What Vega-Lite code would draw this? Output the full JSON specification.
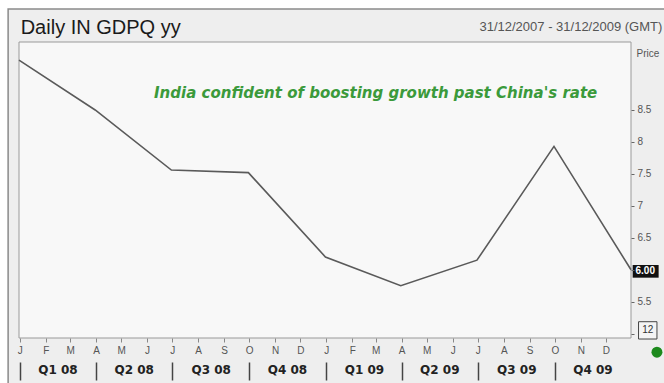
{
  "$schema": "https://vega.github.io/schema/vega-lite/v6.json",
  "width": 612,
  "height": 296,
  "autosize": {"type": "none"},
  "padding": {"left": 19, "top": 42, "right": 33, "bottom": 45},
  "background": "white",
  "config": {"view": {"stroke": null}, "axis": {"grid": false}},
  "data": {"values": [
    {"date": "2007-12-31", "value": 9.28},
    {"date": "2008-03-31", "value": 8.50},
    {"date": "2008-06-30", "value": 7.56},
    {"date": "2008-09-30", "value": 7.52},
    {"date": "2008-12-31", "value": 6.20},
    {"date": "2009-03-31", "value": 5.75},
    {"date": "2009-06-30", "value": 6.15},
    {"date": "2009-09-30", "value": 7.93},
    {"date": "2009-12-31", "value": 6.00}
  ]},
  "resolve": {"axis": {"x": "independent", "y": "independent"}},
  "layer": [
    {
      "data": {"values": [{}]},
      "mark": {"type": "rect", "fill": "#eeeeee", "stroke": "#8a8a8a", "strokeWidth": 1.5, "clip": false},
      "encoding": {
        "x": {"datum": {"year": 2007, "month": 12, "date": 18}, "type": "temporal", "axis": null, "scale": {"domain": [{"year": 2007, "month": 12, "date": 31}, {"year": 2009, "month": 12, "date": 31}]}},
        "x2": {"datum": {"year": 2010, "month": 6, "date": 1}},
        "y": {"datum": 10.08, "type": "quantitative", "axis": null, "scale": {"domain": [4.932, 9.564], "zero": false, "nice": false}},
        "y2": {"datum": 3.5}
      }
    },
    {
      "data": {"values": [{}]},
      "mark": {"type": "rect", "fill": "#f8f8f8", "stroke": "#9a9a9a", "strokeWidth": 1},
      "encoding": {
        "x": {"datum": {"year": 2007, "month": 12, "date": 31}, "type": "temporal", "axis": null},
        "x2": {"datum": {"year": 2009, "month": 12, "date": 31}},
        "y": {"datum": 4.932, "type": "quantitative", "axis": null},
        "y2": {"datum": 9.564}
      }
    },
    {
      "mark": {"type": "line", "color": "#5a5a5a", "strokeWidth": 1.6},
      "encoding": {
        "x": {"field": "date", "type": "temporal",
          "axis": {
            "orient": "bottom", "zindex": 2,
            "values": [
              {"year": 2008, "month": 1, "date": 1}, {"year": 2008, "month": 2, "date": 1}, {"year": 2008, "month": 3, "date": 1},
              {"year": 2008, "month": 4, "date": 1}, {"year": 2008, "month": 5, "date": 1}, {"year": 2008, "month": 6, "date": 1},
              {"year": 2008, "month": 7, "date": 1}, {"year": 2008, "month": 8, "date": 1}, {"year": 2008, "month": 9, "date": 1},
              {"year": 2008, "month": 10, "date": 1}, {"year": 2008, "month": 11, "date": 1}, {"year": 2008, "month": 12, "date": 1},
              {"year": 2009, "month": 1, "date": 1}, {"year": 2009, "month": 2, "date": 1}, {"year": 2009, "month": 3, "date": 1},
              {"year": 2009, "month": 4, "date": 1}, {"year": 2009, "month": 5, "date": 1}, {"year": 2009, "month": 6, "date": 1},
              {"year": 2009, "month": 7, "date": 1}, {"year": 2009, "month": 8, "date": 1}, {"year": 2009, "month": 9, "date": 1},
              {"year": 2009, "month": 10, "date": 1}, {"year": 2009, "month": 11, "date": 1}, {"year": 2009, "month": 12, "date": 1}
            ],
            "labelExpr": "slice(timeFormat(datum.value, '%b'), 0, 1)",
            "tickSize": 4, "tickColor": "#888888", "labelColor": "#555555", "labelFont": "Liberation Sans", "labelFontSize": 10,
            "labelPadding": 3, "domain": false, "title": null, "labelFlush": false, "labelOverlap": false
          }
        },
        "y": {"field": "value", "type": "quantitative",
          "axis": {
            "orient": "right", "zindex": 2, "values": [5, 5.5, 6, 6.5, 7, 7.5, 8, 8.5],
            "labelExpr": "datum.value == 5 || datum.value == 6 ? '' : '' + datum.value",
            "domain": false, "tickSize": 3, "tickColor": "#666666", "labelColor": "#555555", "labelFont": "Liberation Sans", "labelFontSize": 10, "labelPadding": 3,
            "title": "Price", "titleAngle": 0, "titleAlign": "left", "titleBaseline": "alphabetic", "titleX": 5, "titleY": 14,
            "titleFont": "Liberation Sans", "titleFontSize": 10, "titleFontWeight": "normal", "titleColor": "#555555"
          }
        }
      }
    },
    {
      "mark": {"type": "rule", "opacity": 0},
      "encoding": {
        "x": {"field": "date", "type": "temporal",
          "axis": {
            "orient": "bottom", "zindex": 2,
            "values": [
              {"year": 2008, "month": 2, "date": 15}, {"year": 2008, "month": 5, "date": 16}, {"year": 2008, "month": 8, "date": 16}, {"year": 2008, "month": 11, "date": 15},
              {"year": 2009, "month": 2, "date": 15}, {"year": 2009, "month": 5, "date": 16}, {"year": 2009, "month": 8, "date": 16}, {"year": 2009, "month": 11, "date": 15}
            ],
            "labelExpr": "'Q' + quarter(datum.value) + ' ' + timeFormat(datum.value, '%y')",
            "ticks": false, "tickSize": 0, "domain": false, "offset": 26, "labelPadding": 0,
            "labelFont": "DejaVu Sans", "labelFontSize": 12, "labelFontWeight": "bold", "labelColor": "#222222",
            "title": null, "labelFlush": false, "labelOverlap": false
          }
        }
      }
    },
    {
      "mark": {"type": "rule", "opacity": 0},
      "encoding": {
        "x": {"field": "date", "type": "temporal",
          "axis": {
            "orient": "bottom", "zindex": 2,
            "values": [
              {"year": 2008, "month": 1, "date": 1}, {"year": 2008, "month": 4, "date": 1}, {"year": 2008, "month": 7, "date": 1}, {"year": 2008, "month": 10, "date": 1},
              {"year": 2009, "month": 1, "date": 1}, {"year": 2009, "month": 4, "date": 1}, {"year": 2009, "month": 7, "date": 1}, {"year": 2009, "month": 10, "date": 1}
            ],
            "labels": false, "tickSize": 18, "tickWidth": 1.5, "tickColor": "#444444", "domain": false, "offset": 24, "title": null
          }
        }
      }
    },
    {
      "data": {"values": [{"label": "Daily IN GDPQ yy"}]},
      "mark": {"type": "text", "align": "left", "baseline": "alphabetic", "font": "Liberation Sans", "fontSize": 20, "color": "#1a1a1a", "clip": false},
      "encoding": {
        "x": {"datum": {"year": 2008, "month": 1, "date": 2}, "type": "temporal", "axis": null},
        "y": {"datum": 9.689, "type": "quantitative", "axis": null},
        "text": {"field": "label"}
      }
    },
    {
      "data": {"values": [{"label": "India confident of boosting growth past China's rate"}]},
      "mark": {"type": "text", "align": "center", "baseline": "alphabetic", "font": "DejaVu Sans", "fontSize": 15, "fontWeight": "bold", "fontStyle": "italic", "color": "#3b9a3b"},
      "encoding": {
        "x": {"datum": {"year": 2009, "month": 3, "date": 1}, "type": "temporal", "axis": null},
        "y": {"datum": 8.683, "type": "quantitative", "axis": null},
        "text": {"field": "label"}
      }
    },
    {
      "data": {"values": [{"label": "31/12/2007 - 31/12/2009 (GMT)"}]},
      "mark": {"type": "text", "align": "left", "baseline": "alphabetic", "font": "Liberation Sans", "fontSize": 13, "color": "#555555", "clip": false},
      "encoding": {
        "x": {"datum": {"year": 2009, "month": 7, "date": 3}, "type": "temporal", "axis": null},
        "y": {"datum": 9.736, "type": "quantitative", "axis": null},
        "text": {"field": "label"}
      }
    },
    {
      "data": {"values": [{}]},
      "mark": {"type": "rect", "fill": "#111111", "clip": false},
      "encoding": {
        "x": {"datum": {"year": 2010, "month": 1, "date": 2}, "type": "temporal", "axis": null},
        "x2": {"datum": {"year": 2010, "month": 2, "date": 2}},
        "y": {"datum": 6.074, "type": "quantitative", "axis": null},
        "y2": {"datum": 5.876}
      }
    },
    {
      "data": {"values": [{"label": "6.00"}]},
      "mark": {"type": "text", "align": "center", "baseline": "middle", "font": "Liberation Sans", "fontSize": 10, "fontWeight": "bold", "color": "#ffffff", "clip": false},
      "encoding": {
        "x": {"datum": {"year": 2010, "month": 1, "date": 17}, "type": "temporal", "axis": null},
        "y": {"datum": 5.975, "type": "quantitative", "axis": null},
        "text": {"field": "label"}
      }
    },
    {
      "data": {"values": [{}]},
      "mark": {"type": "rect", "fill": "#f4f4f4", "stroke": "#444444", "strokeWidth": 1, "clip": false},
      "encoding": {
        "x": {"datum": {"year": 2010, "month": 1, "date": 9}, "type": "temporal", "axis": null},
        "x2": {"datum": {"year": 2010, "month": 1, "date": 31}},
        "y": {"datum": 5.187, "type": "quantitative", "axis": null},
        "y2": {"datum": 4.916}
      }
    },
    {
      "data": {"values": [{"label": "12"}]},
      "mark": {"type": "text", "align": "center", "baseline": "middle", "font": "Liberation Sans", "fontSize": 10, "color": "#333333", "clip": false},
      "encoding": {
        "x": {"datum": {"year": 2010, "month": 1, "date": 20}, "type": "temporal", "axis": null},
        "y": {"datum": 5.05, "type": "quantitative", "axis": null},
        "text": {"field": "label"}
      }
    },
    {
      "data": {"values": [{}]},
      "mark": {"type": "point", "filled": true, "color": "#1d8a1d", "size": 120, "opacity": 1, "clip": false},
      "encoding": {
        "x": {"datum": {"year": 2010, "month": 1, "date": 31}, "type": "temporal", "axis": null},
        "y": {"datum": 4.71, "type": "quantitative", "axis": null}
      }
    }
  ]
}
